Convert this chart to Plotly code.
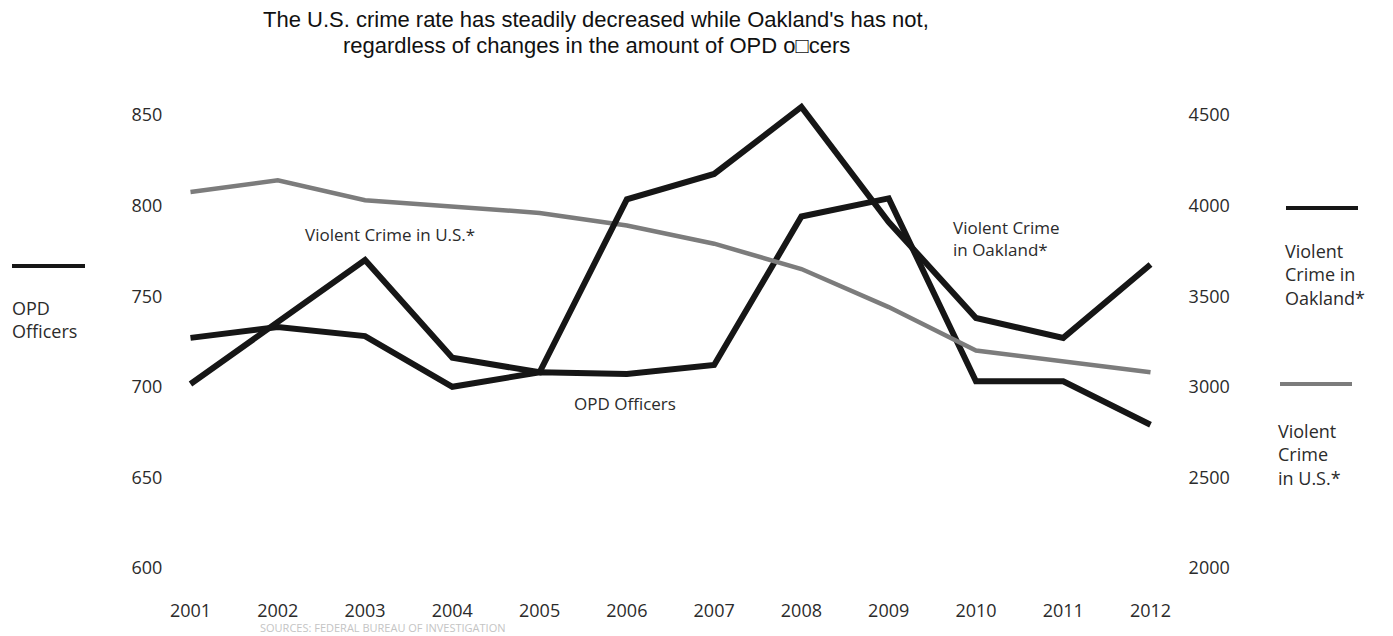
import plotly.graph_objects as go

# --- data -------------------------------------------------------------
years = [2001, 2002, 2003, 2004, 2005, 2006, 2007, 2008, 2009, 2010, 2011, 2012]
opd_officers = [727, 733, 728, 700, 708, 707, 712, 794, 804, 703, 703, 679]
crime_oakland = [3015, 3360, 3700, 3160, 3080, 4035, 4175, 4545, 3910, 3380, 3270, 3675]
crime_us = [4075, 4140, 4030, 3995, 3960, 3890, 3790, 3650, 3440, 3200, 3140, 3080]

left_ticks = [600, 650, 700, 750, 800, 850]
right_ticks = [2000, 2500, 3000, 3500, 4000, 4500]

title_lines = [
    "The U.S. crime rate has steadily decreased while Oakland's has not,",
    "regardless of changes in the amount of OPD o\u25a1cers",
]

# --- layout geometry --------------------------------------------------
W, H = 1393, 636
ML, MR, MT, MB = 187, 239, 97, 50

BLACK = "#161616"
GREY = "#7c7c7c"
TEXT = "#2b2b2b"
LABEL_FONT = "Open Sans, Noto Sans, DejaVu Sans, sans-serif"
TITLE_FONT = "Liberation Sans Narrow, Liberation Sans, Arial, sans-serif"


def px(x):
    return (x - ML) / (W - ML - MR)


def py(y):
    return 1 - (y - MT) / (H - MT - MB)


fig = go.Figure()

fig.add_trace(go.Scatter(
    x=years, y=opd_officers, mode="lines", name="OPD Officers",
    line=dict(color=BLACK, width=6), yaxis="y",
))
fig.add_trace(go.Scatter(
    x=years, y=crime_us, mode="lines", name="Violent Crime in U.S.*",
    line=dict(color=GREY, width=4.5), yaxis="y2",
))
fig.add_trace(go.Scatter(
    x=years, y=crime_oakland, mode="lines", name="Violent Crime in Oakland*",
    line=dict(color=BLACK, width=6), yaxis="y2",
))

tick_font = dict(family=LABEL_FONT, size=18, color=TEXT)

fig.update_layout(
    width=W, height=H,
    margin=dict(l=ML, r=MR, t=MT, b=MB),
    paper_bgcolor="white", plot_bgcolor="white",
    showlegend=False,
    xaxis=dict(
        range=[2000.96, 2012.04], tickvals=years, ticktext=[str(y) for y in years],
        showgrid=False, zeroline=False, showline=False,
        ticks="outside", ticklen=8, tickcolor="white", tickfont=tick_font,
    ),
    yaxis=dict(
        range=[590, 860], tickvals=left_ticks,
        showgrid=False, zeroline=False, showline=False,
        ticks="outside", ticklen=20, tickcolor="white", tickfont=tick_font,
    ),
    yaxis2=dict(
        range=[1900, 4600], tickvals=right_ticks, overlaying="y", side="right",
        showgrid=False, zeroline=False, showline=False,
        ticks="outside", ticklen=30, tickcolor="white", tickfont=tick_font,
    ),
)

# title
for i, line in enumerate(title_lines):
    fig.add_annotation(
        x=px(596), y=py(19 + 26 * i), xref="paper", yref="paper",
        text=line, showarrow=False, xanchor="center", yanchor="middle",
        font=dict(family=TITLE_FONT, size=22, color="#111111"),
    )

# side keys: swatch + label
keys = [
    dict(x0=12, x1=85, y=266, color=BLACK, text="OPD<br>Officers", tx=10, ty=319),
    dict(x0=1286, x1=1358, y=208, color=BLACK, text="Violent<br>Crime in<br>Oakland*", tx=1283, ty=274),
    dict(x0=1280, x1=1352, y=384, color=GREY, text="Violent<br>Crime<br>in U.S.*", tx=1276, ty=454),
]
for k in keys:
    fig.add_shape(
        type="line", xref="paper", yref="paper",
        x0=px(k["x0"]), x1=px(k["x1"]), y0=py(k["y"]), y1=py(k["y"]),
        line=dict(color=k["color"], width=4),
    )
    fig.add_annotation(
        x=px(k["tx"]), y=py(k["ty"]), xref="paper", yref="paper",
        text=k["text"], showarrow=False, xanchor="left", yanchor="middle", align="left",
        font=dict(family=LABEL_FONT, size=18, color=TEXT),
    )

# inline series labels
inline = [
    dict(text="Violent Crime in U.S.*", x=303, y=234),
    dict(text="OPD Officers", x=572, y=403),
    dict(text="Violent Crime<br>in Oakland*", x=951, y=238),
]
for lab in inline:
    fig.add_annotation(
        x=px(lab["x"]), y=py(lab["y"]), xref="paper", yref="paper",
        text=lab["text"], showarrow=False, xanchor="left", yanchor="middle", align="left",
        font=dict(family=LABEL_FONT, size=17, color=TEXT),
    )

# source line along the bottom edge
fig.add_annotation(
    x=px(258), y=py(627), xref="paper", yref="paper",
    text="SOURCES: FEDERAL BUREAU OF INVESTIGATION", showarrow=False,
    xanchor="left", yanchor="middle",
    font=dict(family=LABEL_FONT, size=11, color="#c4c4c4"),
)

fig.write_html("out.html")
